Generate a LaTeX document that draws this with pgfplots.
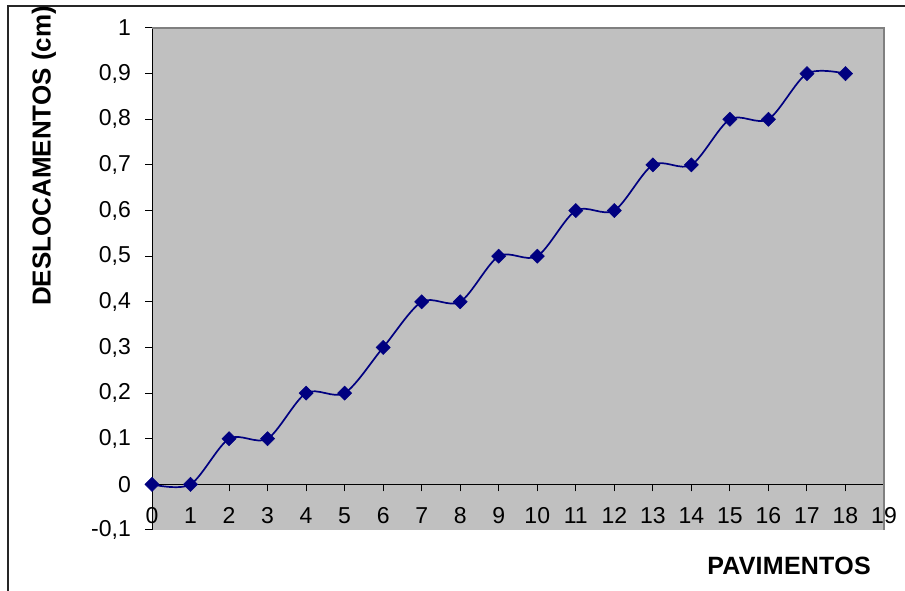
\documentclass[border=0pt]{standalone}
\usepackage{fontspec}
\setmainfont{Liberation Sans}
\newfontfamily\spacedfont{Liberation Sans}[LetterSpace=1]
\usepackage{pgfplots}
\pgfplotsset{compat=1.18}
\definecolor{plotgray}{HTML}{C0C0C0}
\definecolor{bordergray}{HTML}{808080}
\definecolor{seriesnavy}{HTML}{000080}

\begin{document}
\begin{tikzpicture}
% outer frame of the chart
\draw[line width=1.4bp, black!85] (8bp,0bp) -- (8bp,585bp) -- (905bp,585bp);

\begin{axis}[
  at={(152bp,61bp)}, anchor=south west,
  scale only axis, width=732bp, height=502bp,
  xmin=0, xmax=19, ymin=-0.1, ymax=1,
  axis x line*=middle, axis y line*=left,
  hide obscured x ticks=false,
  axis line style={black, line width=1bp, -},
  axis background/.style={fill=plotgray},
  tick align=outside,
  major tick length=7bp,
  tick style={black, line width=1bp},
  xtick={0,...,19},
  xticklabels={0,1,2,3,4,5,6,7,8,9,10,11,12,13,14,15,16,17,18,19},
  ytick={-0.1,0,0.1,0.2,0.3,0.4,0.5,0.6,0.7,0.8,0.9,1},
  /pgf/number format/assume math mode=true,
  /pgf/number format/.cd, use comma, fixed, precision=1,
  /pgfplots/.cd,
  tick label style={font=\fontsize{23bp}{27bp}\selectfont},
  xticklabel style={anchor=north, inner sep=0pt, yshift=-16bp},
  yticklabel style={anchor=east, inner sep=0pt, xshift=-14bp},
  clip=false,
]
% plot area border, top and right
\draw[bordergray, line width=1.2bp] (axis cs:0,1) -- (axis cs:19,1) -- (axis cs:19,-0.1);

\addplot[seriesnavy, line width=1.7bp, smooth, tension=0.5,
  mark=square*, mark size=5bp,
  mark options={rotate=45, fill=seriesnavy, draw=seriesnavy, line width=0.5bp}]
  coordinates {
  (0,0) (1,0) (2,0.1) (3,0.1) (4,0.2) (5,0.2) (6,0.3) (7,0.4) (8,0.4)
  (9,0.5) (10,0.5) (11,0.6) (12,0.6) (13,0.7) (14,0.7) (15,0.8) (16,0.8)
  (17,0.9) (18,0.9)
  };
\end{axis}

\node[rotate=90, font=\fontsize{26bp}{30bp}\selectfont\bfseries] at (44bp,435bp) {DESLOCAMENTOS (cm)};
\node[font=\spacedfont\fontsize{25bp}{29bp}\selectfont\bfseries] at (789bp,25bp) {PAVIMENTOS};

\pgfresetboundingbox
\path (0bp,0bp) rectangle (905bp,591bp);
\end{tikzpicture}
\end{document}
